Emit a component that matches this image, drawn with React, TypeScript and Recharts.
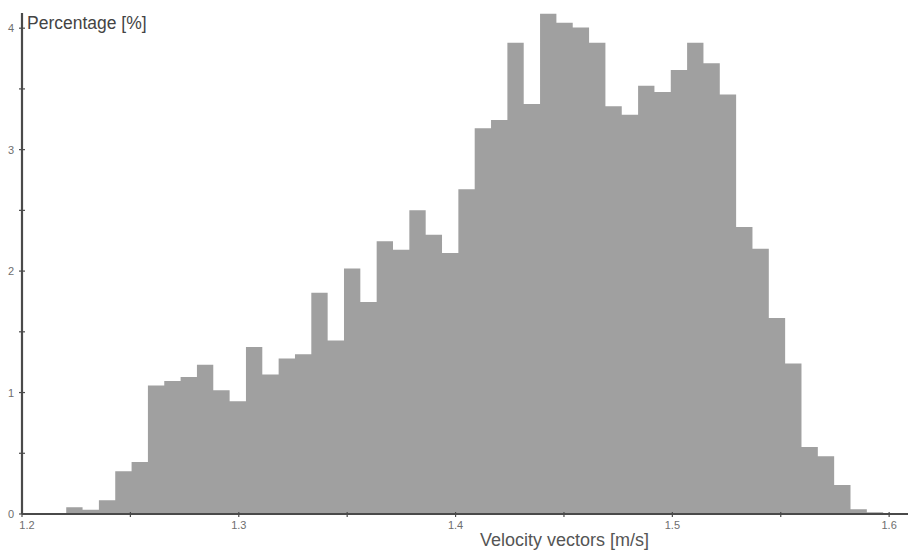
import { ComposedChart, Area, XAxis, YAxis, Label } from 'recharts';

// histogram of velocity magnitudes, 50 equal bins
const binStart = 1.2204;
const binWidth = 0.007537;
const percentages = [
  0.055, 0.036, 0.113, 0.352, 0.429, 1.058, 1.096, 1.127, 1.228, 1.019,
  0.929, 1.374, 1.149, 1.281, 1.316, 1.821, 1.429, 2.022, 1.745, 2.245,
  2.176, 2.5, 2.299, 2.148, 2.673, 3.176, 3.244, 3.881, 3.376, 4.118,
  4.044, 4.005, 3.881, 3.357, 3.288, 3.527, 3.475, 3.656, 3.881, 3.712,
  3.453, 2.363, 2.184, 1.613, 1.239, 0.552, 0.475, 0.239, 0.039, 0.014,
];
const xTicks = [1.2, 1.25, 1.3, 1.35, 1.4, 1.45, 1.5, 1.55, 1.6];
const yTicks = [0, 0.5, 1, 1.5, 2, 2.5, 3, 3.5, 4];
const xLabeled = ['1.2', '1.3', '1.4', '1.5', '1.6'];
const yLabeled = ['0', '1', '2', '3', '4'];

// step points: each bin's left edge, plus a closing edge back at zero
const data = [
  ...percentages.map((p, i) => ({ v: binStart + i * binWidth, pct: p })),
  { v: binStart + percentages.length * binWidth, pct: 0 },
];

const AXIS = '#4a4a4a';
const TICK_TEXT = '#6e6e6e';
const FONT = '"Liberation Sans", Arial, sans-serif';

const XTick = ({ x, y, payload }: any) => {
  const txt = String(Number(payload.value.toFixed(2)));
  const shown = xLabeled.includes(txt);
  return (
    <g>
      <line x1={x} x2={x} y1={y - 2} y2={y + 3} stroke={AXIS} strokeWidth={1.2} />
      {shown && (
        <text x={x + (txt === '1.2' ? 5 : 0)} y={y + 15} textAnchor="middle" fontSize={11} fill={TICK_TEXT} fontFamily={FONT}>
          {txt}
        </text>
      )}
    </g>
  );
};

const YTick = ({ x, y, payload }: any) => {
  const txt = String(Number(payload.value.toFixed(2)));
  const shown = yLabeled.includes(txt);
  return (
    <g>
      <line x1={x - 3} x2={x + 3} y1={y} y2={y} stroke={AXIS} strokeWidth={1.2} />
      {shown && (
        <text x={x - 8} y={y + 4} textAnchor="end" fontSize={11} fill={TICK_TEXT} fontFamily={FONT}>
          {txt}
        </text>
      )}
    </g>
  );
};

export default function App() {
  return (
    <div style={{ position: 'absolute', left: 0, top: 0, width: 908, height: 550, background: '#fff' }}>
      <ComposedChart width={908} height={550} data={data} margin={{ top: 13, right: 0, bottom: 6, left: 0 }}>
        <XAxis
          dataKey="v"
          type="number"
          domain={[1.2, 1.6087]}
          ticks={xTicks}
          allowDataOverflow
          height={30}
          axisLine={{ stroke: AXIS, strokeWidth: 2.2 }}
          tickLine={false}
          tickSize={0}
          tickMargin={0}
          tick={<XTick />}
          interval={0}
        >
          <Label
            content={() => (
              <text x={480} y={546} fontSize={18} fill="#555" fontFamily={FONT}>
                Velocity vectors [m/s]
              </text>
            )}
          />
        </XAxis>
        <YAxis
          type="number"
          domain={[0, 4.125]}
          ticks={yTicks}
          allowDataOverflow
          width={22}
          axisLine={{ stroke: AXIS, strokeWidth: 2.2 }}
          tickLine={false}
          tickSize={0}
          tickMargin={0}
          tick={<YTick />}
          interval={0}
        >
          <Label
            content={() => (
              <text x={27} y={29} fontSize={17.5} fill="#444" fontFamily={FONT}>
                Percentage [%]
              </text>
            )}
          />
        </YAxis>
        <Area
          type="stepAfter"
          dataKey="pct"
          stroke="none"
          fill="#a0a0a0"
          fillOpacity={1}
          isAnimationActive={false}
          dot={false}
          activeDot={false}
        />
      </ComposedChart>
    </div>
  );
}
